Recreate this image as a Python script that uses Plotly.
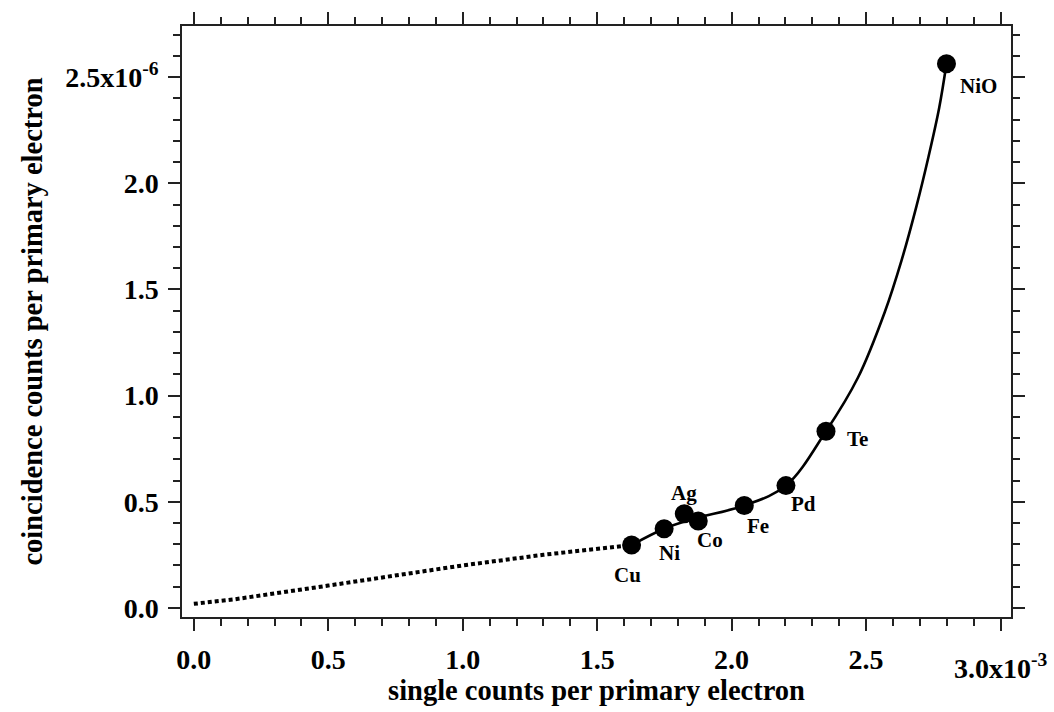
import plotly.graph_objects as go

# Measured materials (x in units of 1e-3, y in units of 1e-6)
materials = ["Cu", "Ni", "Ag", "Co", "Fe", "Pd", "Te", "NiO"]
single_counts = [1.628, 1.749, 1.824, 1.876, 2.047, 2.202, 2.351, 2.799]
coinc_counts = [0.296, 0.373, 0.443, 0.409, 0.482, 0.576, 0.832, 2.563]

# Solid fitted curve
fit_x = [1.628, 1.749, 1.86, 2.047, 2.202, 2.351, 2.470, 2.570, 2.632, 2.688, 2.732, 2.772, 2.799]
fit_y = [0.296, 0.373, 0.420, 0.482, 0.576, 0.832, 1.085, 1.395, 1.637, 1.895, 2.124, 2.356, 2.563]

# Dotted extrapolation towards the origin
extra_x = [0.0, 0.15, 0.5, 1.0, 1.3, 1.628]
extra_y = [0.019, 0.040, 0.105, 0.200, 0.250, 0.296]

x_tickvals = [0.0, 0.5, 1.0, 1.5, 2.0, 2.5, 3.0]
x_ticktext = ["0.0", "0.5", "1.0", "1.5", "2.0", "2.5", ""]
y_tickvals = [0.0, 0.5, 1.0, 1.5, 2.0, 2.5]
y_ticktext = ["0.0", "0.5", "1.0", "1.5", "2.0", "2.5x10<sup>-6</sup>"]

# label offsets in pixels (dx, dy)
label_dx = [-4, 5, 0, 12, 14, 18, 31, 32]
label_dy = [-30, -24, 21, -19, -20, -18, -8, -22]

FONT = "Liberation Serif"

fig = go.Figure()
fig.add_trace(go.Scatter(x=extra_x, y=extra_y, mode="lines",
                         line=dict(color="black", width=4, dash="4px,3px"),
                         hoverinfo="skip", showlegend=False))
fig.add_trace(go.Scatter(x=fit_x, y=fit_y, mode="lines",
                         line=dict(color="black", width=2.6, shape="spline", smoothing=1.0),
                         hoverinfo="skip", showlegend=False))
fig.add_trace(go.Scatter(x=single_counts, y=coinc_counts, mode="markers",
                         marker=dict(color="black", size=19),
                         text=materials, showlegend=False))

for name, xv, yv, dx, dy in zip(materials, single_counts, coinc_counts, label_dx, label_dy):
    fig.add_annotation(x=xv, y=yv, xref="x", yref="y", text=name, showarrow=False,
                       xshift=dx, yshift=dy,
                       font=dict(family=FONT, size=21, color="black", weight="bold"))

fig.add_annotation(x=3.0, y=0, xref="x", yref="paper", yanchor="top",
                   text="3.0x10<sup>-3</sup>", showarrow=False, yshift=-30,
                   font=dict(family=FONT, size=28, color="black", weight="bold"))

axis_common = dict(
    showgrid=False, zeroline=False, showline=True, linecolor="#222", linewidth=1.5,
    mirror="ticks", ticks="outside", ticklen=12, tickwidth=1.5, tickcolor="#222",
    tickfont=dict(family=FONT, size=28, color="black", weight="bold"),
)

fig.update_xaxes(range=[-0.044, 3.039], tickmode="array", tickvals=x_tickvals, ticktext=x_ticktext,
                 minor=dict(dtick=0.1, ticks="outside", ticklen=7, tickwidth=1.5, tickcolor="#222"),
                 ticklabelstandoff=5,
                 title=dict(text="single counts per primary electron", standoff=5,
                            font=dict(family=FONT, size=28.5, color="black", weight="bold")),
                 **axis_common)
fig.update_yaxes(range=[-0.043, 2.741], tickmode="array", tickvals=y_tickvals, ticktext=y_ticktext,
                 minor=dict(dtick=0.1, ticks="outside", ticklen=7, tickwidth=1.5, tickcolor="#222"),
                 ticklabelstandoff=4,
                 title=dict(text="coincidence counts per primary electron", standoff=14,
                            font=dict(family=FONT, size=28.5, color="black", weight="bold")),
                 **axis_common)

fig.update_layout(width=1054, height=712, margin=dict(l=182, r=43, t=24, b=91),
                  paper_bgcolor="white", plot_bgcolor="white", showlegend=False)

fig.write_html("out.html", config={"displayModeBar": False},
               post_script="document.body.style.margin='0';document.body.style.padding='0';"
                           "document.body.style.overflow='hidden';")
